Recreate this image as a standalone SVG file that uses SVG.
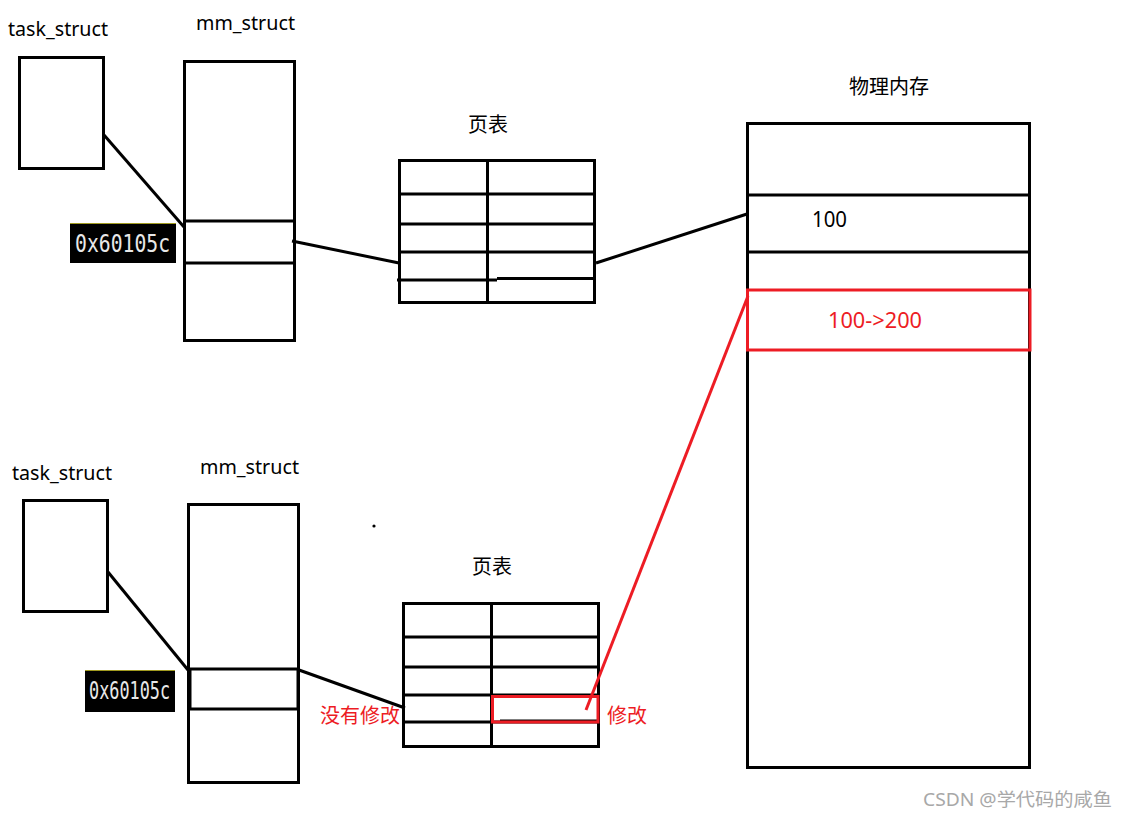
<svg xmlns="http://www.w3.org/2000/svg" width="1129" height="817" viewBox="0 0 1129 817">
<style>
.box{fill:#fff;stroke:#000;stroke-width:3}
.ln{stroke:#000;stroke-width:3;fill:none}
.red{stroke:#ed1c24;stroke-width:3;fill:none}
.lbl{font-family:"Noto Sans","Noto Sans CJK SC",sans-serif;font-size:19px;fill:#000}
.num{font-family:"Noto Sans","Noto Sans CJK SC",sans-serif;font-size:21px;fill:#000}
.cjk{font-family:"Noto Sans CJK SC",sans-serif;font-size:20px;fill:#000}
.rt{fill:#ed1c24}
.addr{fill:#000}
.addrt{font-family:"DejaVu Sans Mono",monospace;font-size:24px;fill:#e8e8e8}
.wm{font-family:"Noto Sans","Noto Sans CJK SC",sans-serif;font-size:18px;fill:#a8a8a8}
</style>
<rect width="1129" height="817" fill="#fff"/>

<!-- top process -->
<g id="task1">
<text class="lbl" x="8" y="36" textLength="100" lengthAdjust="spacingAndGlyphs">task_struct</text>
<rect class="box" x="19.5" y="57.5" width="84" height="111"/>
</g>
<g id="mm1">
<text class="lbl" x="196" y="30" textLength="99" lengthAdjust="spacingAndGlyphs">mm_struct</text>
<rect class="box" x="184.5" y="61.5" width="110" height="279"/>
<line class="ln" x1="184" y1="221" x2="295" y2="221"/>
<line class="ln" x1="184" y1="263" x2="295" y2="263"/>
</g>
<g id="addr1">
<rect class="addr" x="70" y="223" width="106" height="40"/>
<line x1="70" y1="223.5" x2="176" y2="223.5" stroke="#a09a20" stroke-width="1"/>
<text class="addrt" x="75" y="252" textLength="95" lengthAdjust="spacingAndGlyphs">0x60105c</text>
</g>
<g id="pt1">
<text class="cjk" x="488" y="132" text-anchor="middle">页表</text>
<rect class="box" x="399.5" y="160.5" width="195" height="142"/>
<line class="ln" x1="487.5" y1="160" x2="487.5" y2="303"/>
<line class="ln" x1="399" y1="194" x2="595" y2="194"/>
<line class="ln" x1="399" y1="224" x2="595" y2="224"/>
<line class="ln" x1="399" y1="252" x2="595" y2="252"/>
<line class="ln" x1="397" y1="280" x2="497" y2="280"/>
<line class="ln" x1="497" y1="278.5" x2="595" y2="278.5"/>
</g>

<!-- physical memory -->
<g id="phys">
<text class="cjk" x="889" y="94" text-anchor="middle">物理内存</text>
<rect class="box" x="747.5" y="123.5" width="282" height="644"/>
<line class="ln" x1="747" y1="195" x2="1030" y2="195"/>
<line class="ln" x1="747" y1="252" x2="1030" y2="252"/>
<text class="num" x="812" y="227" textLength="35" lengthAdjust="spacingAndGlyphs">100</text>
<rect class="red" x="747.5" y="290" width="282.5" height="60"/>
<text class="num rt" x="828" y="328" textLength="94" lengthAdjust="spacingAndGlyphs">100-&gt;200</text>
</g>

<!-- bottom process -->
<g id="task2">
<text class="lbl" x="12" y="480" textLength="100" lengthAdjust="spacingAndGlyphs">task_struct</text>
<rect class="box" x="23.5" y="500.5" width="84" height="111"/>
</g>
<g id="mm2">
<text class="lbl" x="200" y="474" textLength="99" lengthAdjust="spacingAndGlyphs">mm_struct</text>
<rect class="box" x="188.5" y="504.5" width="110" height="278"/>
<line class="ln" x1="188" y1="669" x2="299" y2="669"/>
<line class="ln" x1="188" y1="709" x2="299" y2="709"/>
<line class="ln" x1="190" y1="669" x2="190" y2="709"/>
<line class="ln" x1="298" y1="669" x2="298" y2="709"/>
</g>
<g id="addr2">
<rect class="addr" x="85" y="670" width="90" height="42"/>
<line x1="85" y1="670.5" x2="175" y2="670.5" stroke="#a09a20" stroke-width="1"/>
<text class="addrt" x="89" y="699" font-size="26" textLength="81" lengthAdjust="spacingAndGlyphs">0x60105c</text>
</g>
<g id="pt2">
<text class="cjk" x="492" y="574" text-anchor="middle">页表</text>
<rect class="box" x="403.5" y="603.5" width="195" height="143"/>
<line class="ln" x1="491.5" y1="603" x2="491.5" y2="747"/>
<line class="ln" x1="403" y1="637" x2="599" y2="637"/>
<line class="ln" x1="403" y1="667" x2="599" y2="667"/>
<line class="ln" x1="403" y1="695" x2="599" y2="695"/>
<line class="ln" x1="403" y1="722" x2="599" y2="722"/>
<line class="ln" x1="500" y1="721" x2="597" y2="721"/>
<rect class="red" x="492.5" y="696.5" width="105.5" height="25.5"/>
<text class="cjk rt" x="320" y="723">没有修改</text>
<text class="cjk rt" x="607" y="723">修改</text>
</g>
<circle cx="374" cy="526" r="1.6" fill="#000"/>

<!-- connectors -->
<g id="connectors">
<line class="ln" x1="104" y1="135" x2="184" y2="227"/>
<line class="ln" x1="292" y1="241" x2="399" y2="263"/>
<line class="ln" x1="596" y1="263" x2="747" y2="214"/>
<line class="ln" x1="108" y1="572" x2="188" y2="670"/>
<line class="ln" x1="299" y1="670" x2="405" y2="708"/>
<line class="red" x1="586" y1="710" x2="748" y2="296"/>
</g>

<text class="wm" x="923" y="806" textLength="189" lengthAdjust="spacingAndGlyphs">CSDN @学代码的咸鱼</text>
</svg>
